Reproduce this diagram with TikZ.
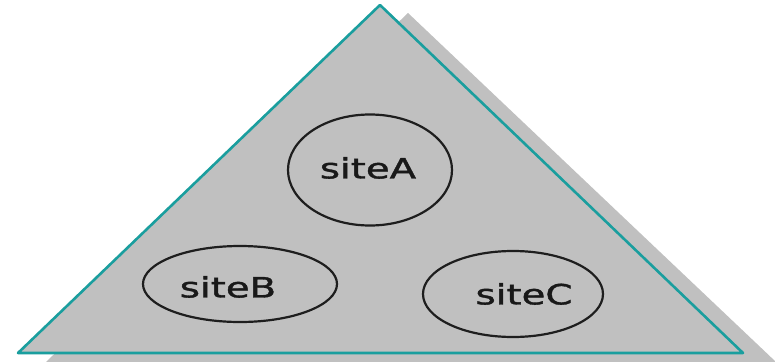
\documentclass[tikz,border=0pt]{standalone}
\usepackage{fontspec}
\setmainfont{DejaVu Sans}
\newfontfamily\labelfont[FakeBold=1.2]{DejaVu Sans}
\usetikzlibrary{shapes.geometric}
\definecolor{panelgray}{HTML}{C0C0C0}
\definecolor{edgeteal}{HTML}{1A9E9E}
\definecolor{rimdark}{HTML}{1E1E1E}
\tikzset{
  site/.style={ellipse, draw=rimdark, line width=2.2pt, fill=none, inner sep=0pt},
  sitelabel/.style={font=\labelfont\fontsize{28}{30}\selectfont, text=black!90, inner sep=0pt},
}
\newcommand{\widetext}[1]{\scalebox{1.38}[1]{#1}}
\begin{document}
\begin{tikzpicture}[x=1pt,y=-1pt]
  \useasboundingbox (0,0) rectangle (775,361);
  \fill[white] (0,0) rectangle (775,361);
  % drop shadow of the triangle
  \fill[panelgray] (408,13) -- (776,362) -- (46,362) -- cycle;
  % main triangle
  \coordinate (apex) at (380,5);
  \coordinate (bl) at (18,353);
  \coordinate (br) at (743,353);
  \fill[panelgray] (apex) -- (br) -- (bl) -- cycle;
  \draw[edgeteal, line width=2.6pt, line join=round] (apex) -- (br) -- (bl) -- cycle;
  % sites
  \node[site, minimum width=164pt, minimum height=111pt] (A) at (370,170) {};
  \node[site, minimum width=194pt, minimum height=76pt] (B) at (240,284) {};
  \node[site, minimum width=180pt, minimum height=86pt] (C) at (513,294) {};
  \node[sitelabel] (tA) at (368,168) {\widetext{siteA}};
  \node[sitelabel] (tB) at (228,287) {\widetext{siteB}};
  \node[sitelabel] (tC) at (524,294) {\widetext{siteC}};
\end{tikzpicture}
\end{document}
